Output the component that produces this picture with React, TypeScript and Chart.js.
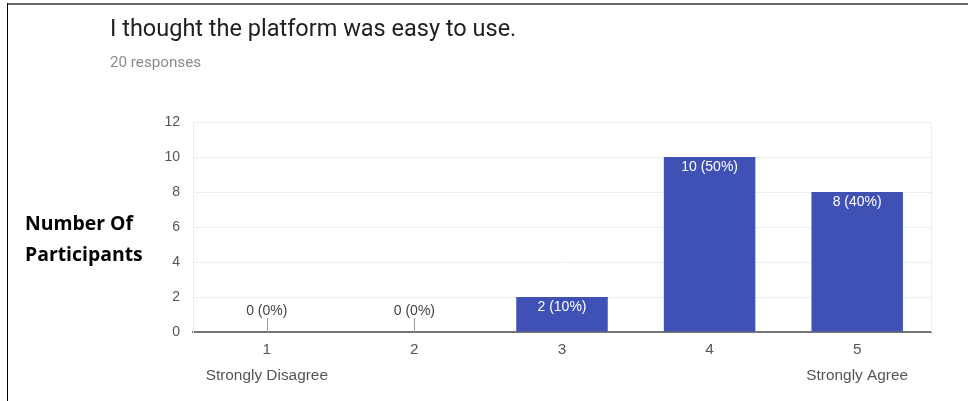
import React, { useEffect, useRef } from "react";
import { Chart, registerables } from "chart.js";

Chart.register(...registerables);

// Survey answers on a 1–5 scale
const scaleCodes = ["1", "2", "3", "4", "5"];
const scaleNames = ["Strongly Disagree", "", "", "", "Strongly Agree"];
const responseCounts = [0, 0, 2, 10, 8];
const yTickValues = [0, 2, 4, 6, 8, 10, 12];

const totalResponses = responseCounts.reduce((a, b) => a + b, 0);

const categoryLabels = scaleCodes.map((code, i) =>
  scaleNames[i] ? [code, scaleNames[i]] : code
);

const TICK_FONT = "'Liberation Sans', Arial, sans-serif";

// Writes "n (p%)" on each bar; empty answers get a short stem above the axis
const barValueLabels = {
  id: "barValueLabels",
  afterDatasetsDraw(chart: any) {
    const { ctx } = chart;
    const meta = chart.getDatasetMeta(0);
    const yScale = chart.scales.y;
    const base = yScale.getPixelForValue(0);
    ctx.save();
    ctx.font = `14px ${TICK_FONT}`;
    ctx.textAlign = "center";
    ctx.textBaseline = "middle";
    meta.data.forEach((bar: any, i: number) => {
      const v = responseCounts[i];
      const pct = Math.round((v / totalResponses) * 100);
      const text = `${v} (${pct}%)`;
      if (v > 0) {
        ctx.fillStyle = "#ffffff";
        ctx.fillText(text, bar.x, bar.y + 10);
      } else {
        ctx.strokeStyle = "#9e9e9e";
        ctx.lineWidth = 1;
        ctx.beginPath();
        ctx.moveTo(Math.round(bar.x) + 0.5, base);
        ctx.lineTo(Math.round(bar.x) + 0.5, base - 14);
        ctx.stroke();
        ctx.fillStyle = "#444444";
        ctx.fillText(text, bar.x, base - 21);
      }
    });
    ctx.restore();
  },
};

// Light frame on the right edge of the plot
const plotFrame = {
  id: "plotFrame",
  beforeDatasetsDraw(chart: any) {
    const { ctx, chartArea } = chart;
    ctx.save();
    ctx.strokeStyle = "#eeeeee";
    ctx.lineWidth = 1;
    ctx.beginPath();
    ctx.moveTo(Math.round(chartArea.right) + 0.5, chartArea.top);
    ctx.lineTo(Math.round(chartArea.right) + 0.5, chartArea.bottom);
    ctx.stroke();
    ctx.restore();
  },
};

export default function App() {
  const canvasRef = useRef<HTMLCanvasElement | null>(null);

  useEffect(() => {
    if (!canvasRef.current) return;
    const chart = new Chart(canvasRef.current, {
      type: "bar",
      data: {
        labels: categoryLabels as any,
        datasets: [
          {
            data: responseCounts,
            backgroundColor: "#3f51b5",
            borderWidth: 0,
            categoryPercentage: 0.62,
            barPercentage: 1,
          },
        ],
      },
      options: {
        responsive: false,
        animation: false,
        devicePixelRatio: 1,
        layout: { padding: { left: 153, right: 37, top: 122, bottom: 0 } },
        plugins: {
          legend: { display: false },
          tooltip: { enabled: false },
          title: { display: false },
        },
        scales: {
          x: {
            grid: { display: false, drawTicks: false },
            border: { display: true, color: "#757575", width: 2 },
            ticks: {
              color: "#555555",
              font: { family: TICK_FONT, size: 15.4, lineHeight: 26 / 15.4 },
              padding: 5,
              maxRotation: 0,
              autoSkip: false,
            },
            afterFit(scale: any) {
              scale.height = 69;
            },
          },
          y: {
            min: 0,
            max: 12,
            afterBuildTicks(scale: any) {
              scale.ticks = yTickValues.map((value) => ({ value }));
            },
            grid: { color: "#eeeeee", drawTicks: false },
            border: { display: true, color: "#eeeeee", width: 1 },
            ticks: {
              color: "#555555",
              font: { family: TICK_FONT, size: 14 },
              padding: 13,
            },
            afterFit(scale: any) {
              scale.width = 40;
            },
          },
        },
      },
      plugins: [plotFrame, barValueLabels],
    });
    return () => chart.destroy();
  }, []);

  return (
    <div
      style={{
        position: "fixed",
        left: 0,
        top: 0,
        width: 968,
        height: 401,
        background: "#ffffff",
        overflow: "hidden",
      }}
    >
      <canvas
        ref={canvasRef}
        width={968}
        height={401}
        style={{ position: "absolute", left: 0, top: 0, width: 968, height: 401 }}
      />
      {/* card frame */}
      <div style={{ position: "absolute", left: 7, top: 3, right: 0, height: 2, background: "#6b6b6b" }} />
      <div style={{ position: "absolute", left: 7, top: 3, bottom: 0, width: 1, background: "#000000" }} />
      <div
        style={{
          position: "absolute",
          left: 110,
          top: 13,
          fontFamily: "Roboto, sans-serif",
          fontSize: 23.5,
          color: "#212121",
          whiteSpace: "nowrap",
          lineHeight: "30px",
        }}
      >
        I thought the platform was easy to use.
      </div>
      <div
        style={{
          position: "absolute",
          left: 110,
          top: 53,
          fontFamily: "Roboto, sans-serif",
          fontSize: 15.2,
          color: "#8a8a8a",
          whiteSpace: "nowrap",
          lineHeight: "18px",
        }}
      >
        20 responses
      </div>
      <div
        style={{
          position: "absolute",
          left: 25,
          top: 207,
          fontFamily: "'Open Sans', sans-serif",
          fontWeight: 700,
          fontSize: 19.4,
          color: "#000000",
          lineHeight: "31px",
          whiteSpace: "nowrap",
        }}
      >
        Number Of
        <br />
        Participants
      </div>
    </div>
  );
}
